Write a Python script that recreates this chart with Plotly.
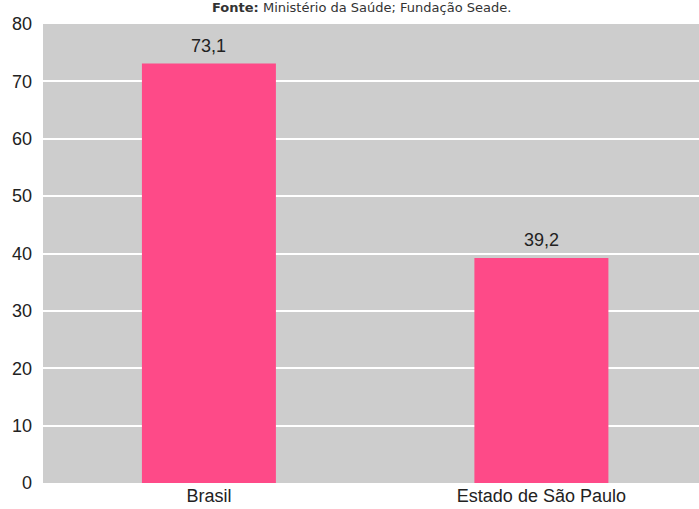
import plotly.graph_objects as go

categories = ["Brasil", "Estado de São Paulo"]
values = [73.1, 39.2]
y_ticks = [0, 10, 20, 30, 40, 50, 60, 70, 80]
source_note = "<b>Fonte:</b> Ministério da Saúde; Fundação Seade."

FONT = "Liberation Sans, Arial, sans-serif"

fig = go.Figure(
    go.Bar(
        x=categories,
        y=values,
        width=0.403,
        marker=dict(color="#fe4a88", line=dict(width=0)),
        hoverinfo="x+y",
    )
)

# value labels above each bar
value_labels = [
    dict(
        x=cat,
        y=val,
        xref="x",
        yref="y",
        text=f"{val:.1f}".replace(".", ","),
        showarrow=False,
        xanchor="center",
        yanchor="bottom",
        yshift=6,
        font=dict(family=FONT, size=18, color="#222222"),
    )
    for cat, val in zip(categories, values)
]

source_annotation = dict(
    text=source_note,
    xref="paper",
    yref="paper",
    x=0.486,
    y=1.0,
    yshift=17,
    xanchor="center",
    yanchor="middle",
    showarrow=False,
    font=dict(family="DejaVu Sans, sans-serif", size=13, color="#333333"),
)

fig.update_layout(
    width=699,
    height=509,
    margin=dict(l=43, r=0, t=24, b=26),
    paper_bgcolor="white",
    plot_bgcolor="#cdcdcd",
    separators=",.",
    showlegend=False,
    font=dict(family=FONT, size=18, color="#222222"),
    annotations=value_labels + [source_annotation],
)

fig.update_xaxes(
    range=[-0.499, 1.474],
    showgrid=False,
    zeroline=False,
    showline=False,
    ticks="",
    tickfont=dict(family=FONT, size=18, color="#222222"),
)

fig.update_yaxes(
    range=[0, 80],
    tickvals=y_ticks,
    showgrid=True,
    gridcolor="white",
    gridwidth=2,
    zeroline=False,
    showline=False,
    ticks="",
    ticklabelstandoff=10,
    tickfont=dict(family=FONT, size=18, color="#222222"),
)

fig.write_html("out.html")
